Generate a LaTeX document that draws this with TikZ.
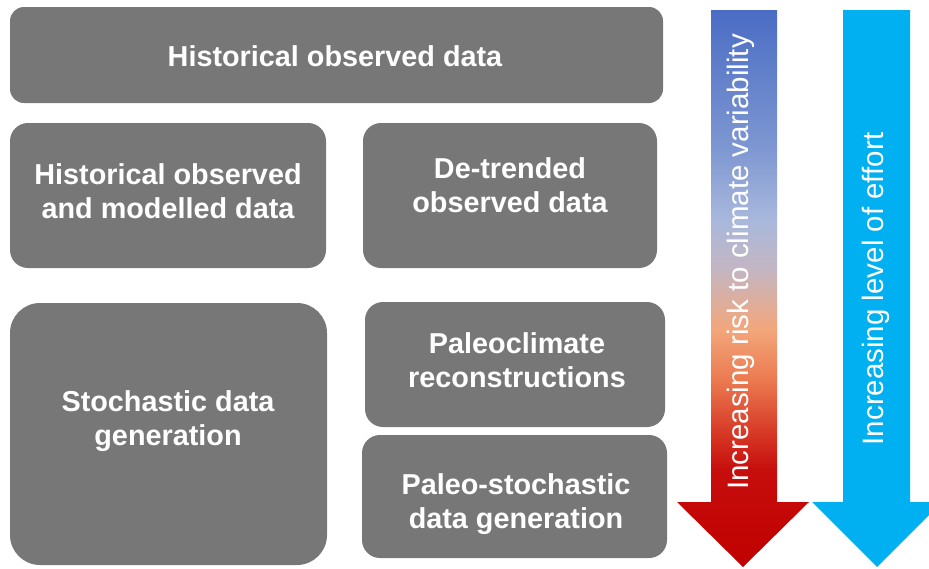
\documentclass[tikz,border=0pt]{standalone}
\usepackage{fontspec}
\setmainfont{Liberation Sans}
\usepackage{tikz}
\usetikzlibrary{positioning}
\definecolor{boxgray}{HTML}{777777}
\definecolor{effortblue}{HTML}{00B0F0}
\definecolor{riskA}{HTML}{C00000}
\definecolor{riskB}{HTML}{C60E0C}
\definecolor{riskC}{HTML}{D83C28}
\definecolor{riskD}{HTML}{EB7A50}
\definecolor{riskE}{HTML}{F3A67A}
\definecolor{riskF}{HTML}{C4B6C2}
\definecolor{riskG}{HTML}{A8B8DC}
\definecolor{riskH}{HTML}{7F98D2}
\definecolor{riskI}{HTML}{4A6CC4}
\pgfdeclareverticalshading{riskshade}{100bp}{color(0bp)=(riskA); color(25bp)=(riskA);
  color(33.7bp)=(riskB); color(37.3bp)=(riskC); color(41.8bp)=(riskD);
  color(46.3bp)=(riskE); color(51.7bp)=(riskF); color(56.2bp)=(riskG);
  color(62.4bp)=(riskH); color(75bp)=(riskI); color(100bp)=(riskI)}
\newcommand*{\headY}{502}
\newcommand*{\tipY}{567}
\newcommand*{\topY}{10}

\begin{document}
\begin{tikzpicture}[x=1pt, y=-1pt,
    databox/.style={fill=boxgray, inner sep=0pt},
    boxtext/.style={text=white, font=\fontsize{28.8}{34}\selectfont\bfseries, align=center},
    arrowtext/.style={text=white, font=\fontsize{29.5}{34}\selectfont, rotate=90}]
    \clip (0,0) rectangle (929,568);

    % data boxes
    \node [databox, rounded corners=14pt, minimum width=653pt, minimum height=96pt] (hist) at (336.5,55) {};
    \node [databox, rounded corners=18pt, minimum width=316pt, minimum height=145pt] (hom) at (168,195.5) {};
    \node [databox, rounded corners=18pt, minimum width=294pt, minimum height=145pt] (det) at (510,195.5) {};
    \node [databox, rounded corners=30pt, minimum width=317pt, minimum height=262pt] (stoch) at (168.5,434) {};
    \node [databox, rounded corners=18pt, minimum width=300pt, minimum height=125pt] (paleo) at (515,364.5) {};
    \node [databox, rounded corners=18pt, minimum width=305pt, minimum height=123pt] (pstoch) at (514.5,496.5) {};

    \node [boxtext] (histtxt) at (335,56) {Historical observed data};
    \node [boxtext] (homtxt) at (168,191) {Historical observed\\and modelled data};
    \node [boxtext] (dettxt) at (510,185) {De-trended\\observed data};
    \node [boxtext] (stochtxt) at (168,421) {Stochastic data\\generation};
    \node [boxtext] (paleotxt) at (517,360) {Paleoclimate\\reconstructions};
    \node [boxtext] (pstochtxt) at (516,504) {Paleo-stochastic\\data generation};

    % arrows
    \path [shading=riskshade] (711,\topY) -- (777,\topY) -- (777,\headY) -- (809,\headY)
        -- (743,\tipY) -- (677,\headY) -- (711,\headY) -- cycle;
    \fill [effortblue] (843,\topY) -- (910,\topY) -- (910,\headY) -- (942,\headY)
        -- (877,\tipY) -- (812,\headY) -- (843,\headY) -- cycle;

    \node [arrowtext] (risktxt) at (741,262) {Increasing risk to climate variability};
    \node [arrowtext] (efforttxt) at (876,289) {Increasing level of effort};
\end{tikzpicture}
\end{document}
